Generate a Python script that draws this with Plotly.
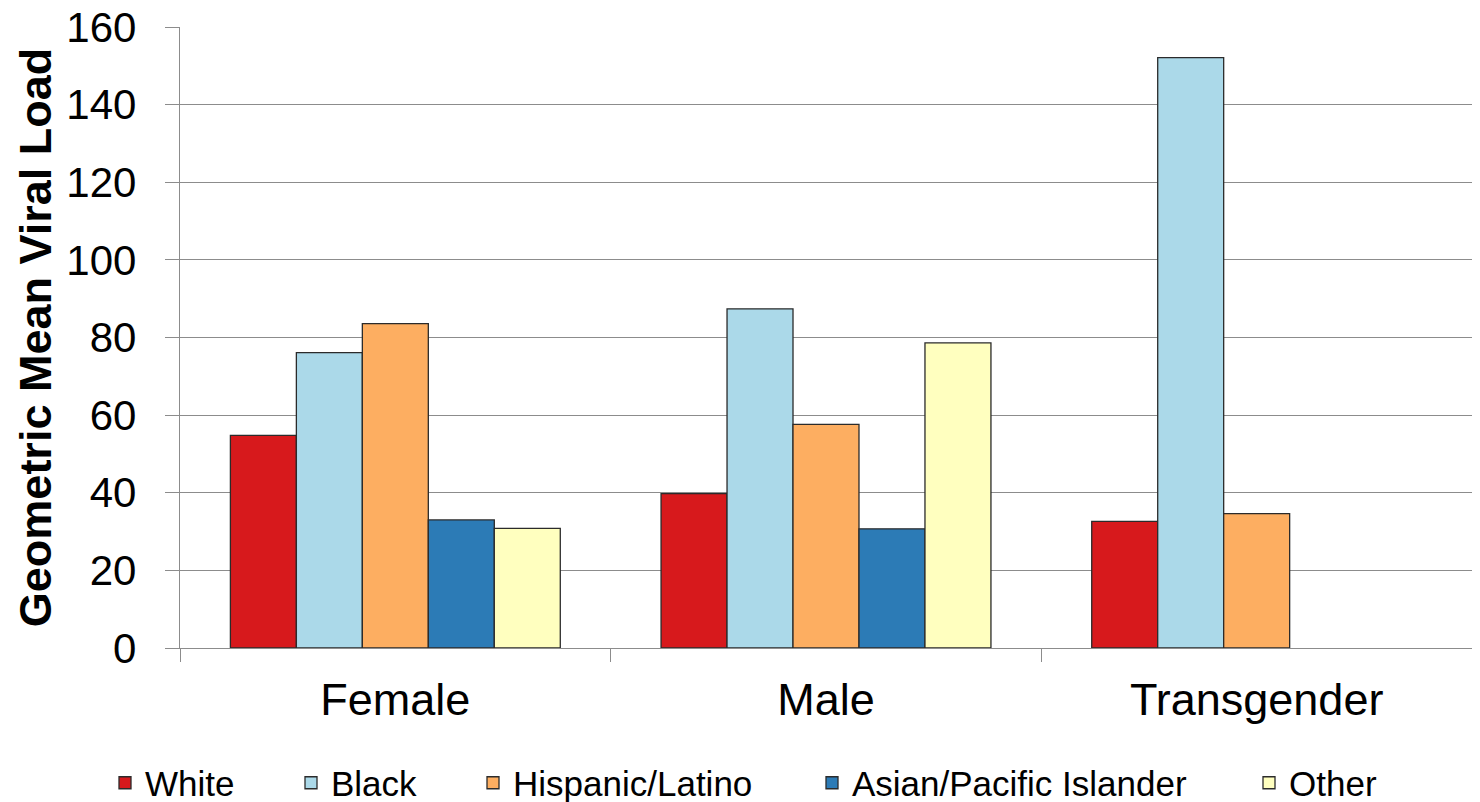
import plotly.graph_objects as go

# Geometric mean viral load by gender and race/ethnicity
genders = ["Female", "Male", "Transgender"]
races = ["White", "Black", "Hispanic/Latino", "Asian/Pacific Islander", "Other"]

white = [54.8, 39.8, 32.6]
black = [76.1, 87.4, 152.1]
hispanic = [83.6, 57.6, 34.6]
asian_pi = [33.0, 30.7, None]
other = [30.8, 78.6, None]

series = [white, black, hispanic, asian_pi, other]
colors = ["#D7191C", "#ABD9E9", "#FDAE61", "#2C7BB6", "#FFFFBF"]

y_ticks = [0, 20, 40, 60, 80, 100, 120, 140, 160]

FONT = "Liberation Sans, Arial, Helvetica, sans-serif"
GRID = "#8c8c8c"
W, H = 1480, 802

# left edge (px) of each legend entry's label along the bottom row
legend_text_x = [147, 333, 515, 854, 1291]
legend_ids = ["legend", "legend2", "legend3", "legend4", "legend5"]

fig = go.Figure()
for name, vals, col, lid in zip(races, series, colors, legend_ids):
    fig.add_trace(go.Bar(
        x=genders, y=vals, name=name, legend=lid,
        marker=dict(color=col, line=dict(color="#2b2b2b", width=1.3)),
    ))

# invisible trace that binds the overlay axis used for the category boundary ticks
fig.add_trace(go.Scatter(x=[-0.5, 2.5], y=[0, 0], xaxis="x2", mode="markers",
                         marker=dict(opacity=0), showlegend=False, hoverinfo="skip"))

legend_layout = {}
for lid, tx in zip(legend_ids, legend_text_x):
    legend_layout[lid] = dict(
        orientation="h", xref="container", yref="container",
        x=(tx - 42) / W, xanchor="left", y=(H - 783) / H, yanchor="middle",
        font=dict(size=35, family=FONT), itemwidth=30,
        bgcolor="rgba(0,0,0,0)",
    )

fig.update_layout(
    width=W, height=H,
    margin=dict(l=180, r=8, t=27, b=154),
    paper_bgcolor="white", plot_bgcolor="white",
    barmode="group", bargap=0.234, bargroupgap=0,
    font=dict(family=FONT, color="black"),
    showlegend=True,
    xaxis=dict(
        type="category", showline=True, linecolor=GRID, linewidth=1.3,
        ticks="", showgrid=False, tickfont=dict(size=45, family=FONT),
        ticklabelstandoff=12, zeroline=False, automargin=False,
    ),
    xaxis2=dict(
        overlaying="x", anchor="y", side="bottom", range=[-0.5, 2.5],
        tickvals=[-0.5, 0.5, 1.5], showticklabels=False,
        ticks="outside", ticklen=13, tickcolor=GRID, tickwidth=1.3,
        showgrid=False, showline=False, zeroline=False, automargin=False,
    ),
    yaxis=dict(
        range=[0, 160], tickvals=y_ticks, ticks="outside", ticklen=14,
        tickcolor=GRID, tickwidth=1.3, showline=True, linecolor=GRID, linewidth=1.3,
        showgrid=True, gridcolor=GRID, gridwidth=1.3, zeroline=False,
        tickfont=dict(size=42, family=FONT), ticklabelstandoff=20,
        automargin=False,
        title=dict(text="<b>Geometric Mean Viral Load</b>",
                   font=dict(size=45, family=FONT), standoff=0),
    ),
    **legend_layout,
)

fig.write_html("out.html")
